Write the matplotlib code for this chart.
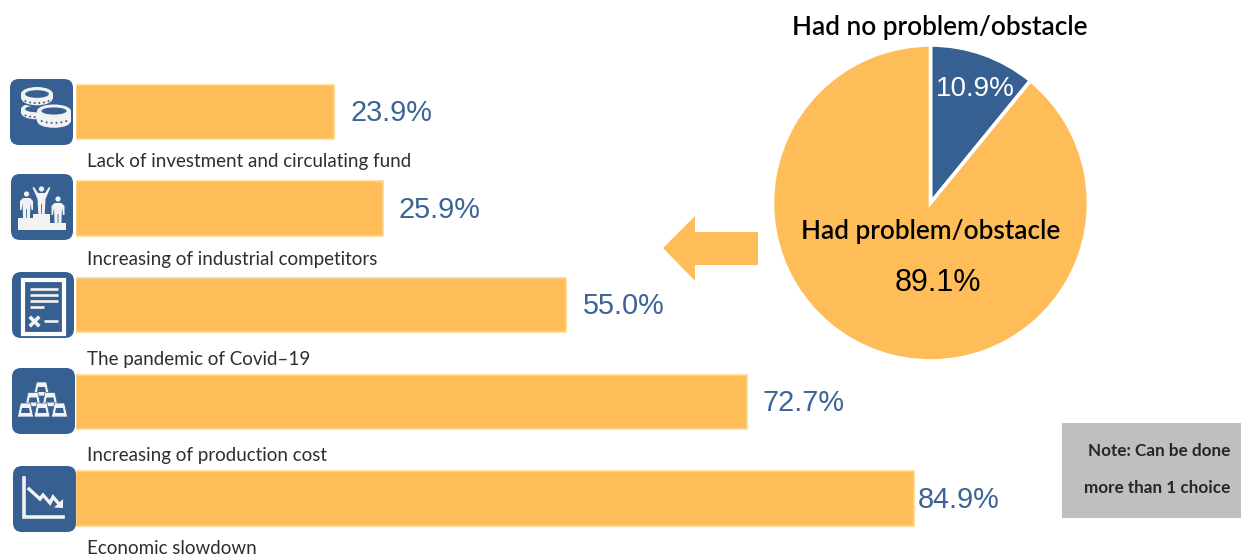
import matplotlib
matplotlib.use("Agg")
import numpy as np
import matplotlib.pyplot as plt
from matplotlib.patches import FancyBboxPatch, Rectangle, Ellipse, Polygon, Circle

# ---- data ----
categories = ["Lack of investment and circulating fund", "Increasing of industrial competitors",
              "The pandemic of Covid-19", "Increasing of production cost", "Economic slowdown"]
values = [23.9, 25.9, 55.0, 72.7, 84.9]
value_labels = ["23.9%", "25.9%", "55.0%", "72.7%", "84.9%"]
pie_values = [10.9, 89.1]
pie_labels = ["10.9%", "89.1%"]
# the source's bars are not to a linear scale; these are its value -> drawn length pairs
scale_values = [0, 23.9, 25.9, 55.0, 72.7, 84.9, 100]
scale_lengths = [0, 258, 307, 490, 671, 838, 924]

ORANGE = "#FFBD59"
EDGE = "#FFD68F"
BLUE = "#376092"
TEXTBLUE = "#3C6595"
ICON = "#F2F2F2"
W, H = 1241, 555
FONT = "Lato"
CAT = "Lato"
NUM = "Liberation Sans"

fig = plt.figure(figsize=(W / 100, H / 100), dpi=100, facecolor="white")


def rect(l, t, r, b):
    return [l / W, 1 - b / H, (r - l) / W, (b - t) / H]


# overlay in pixel coordinates for annotations
ov = fig.add_axes([0, 0, 1, 1], zorder=3)
ov.set_xlim(0, W)
ov.set_ylim(H, 0)
ov.axis("off")
ov.patch.set_alpha(0)

# bars
ax = fig.add_axes(rect(76, 63.7, 1000, 546.8), zorder=2)
ax.patch.set_alpha(0)
ax.set_xscale("function", functions=(lambda x: np.interp(x, scale_values, scale_lengths),
                                     lambda x: np.interp(x, scale_lengths, scale_values)))
ypos = np.arange(len(values))
ax.barh(ypos, values, height=0.564, color=ORANGE, edgecolor=EDGE, linewidth=1.2)
ax.set_xlim(0, 100)
ax.set_ylim(4.5, -0.5)
ax.axis("off")
offsets = [16, 16, 17, 16, 4]
for y, v, t, o in zip(ypos, values, value_labels, offsets):
    ax.annotate(t, (v, y), xytext=(o * 0.72, -0.8), textcoords="offset points", va="center", ha="left",
                fontsize=20.8, color=TEXTBLUE, family=NUM)
cat_y = [161, 260, 360, 455, 548]
for c, y in zip(categories, cat_y):
    ov.text(87, y, c.replace("-", "\u2013"), fontsize=13.5, family=CAT, color="#2E2E2E",
            va="center", ha="left")

# pie
pa = fig.add_axes(rect(930.5 - 158, 203 - 158, 930.5 + 158, 203 + 158), zorder=1)
pa.pie(pie_values, colors=[BLUE, ORANGE], startangle=90, counterclock=False, radius=1.0,
       wedgeprops=dict(edgecolor="white", linewidth=2.6))
pa.set_xlim(-1, 1)
pa.set_ylim(-1, 1)
ov.text(975.5, 89.5, pie_labels[0], color="white", fontsize=20, family=NUM, ha="center", va="center")
ov.text(938, 283, pie_labels[1], color="black", fontsize=22, family=NUM, ha="center", va="center")
ov.text(940, 27, "Had no problem/obstacle", color="black", fontsize=18.8, family=FONT, weight="semibold",
        ha="center", va="center")
ov.text(931, 232, "Had problem/obstacle", color="black", fontsize=18.8, family=FONT, weight="semibold",
        ha="center", va="center")

# arrow
ov.add_patch(Polygon([(758, 232), (695, 232), (695, 216), (663, 248), (695, 281), (695, 265), (758, 265)],
                     closed=True, fc=ORANGE, ec="none"))

# note
ov.add_patch(Rectangle((1062, 423), 179, 95, fc="#BFBFBF", ec="none"))
ov.text(1230, 451, "Note: Can be done", fontsize=12.3, family=FONT, weight="bold", color="#262626", ha="right", va="center")
ov.text(1230, 488, "more than 1 choice", fontsize=12.3, family=FONT, weight="bold", color="#262626", ha="right", va="center")


# icons
def tile(l, t, r, b):
    ov.add_patch(FancyBboxPatch((l + 9, t + 9), r - l - 18, b - t - 18, boxstyle="round,pad=9,rounding_size=9",
                                fc=BLUE, ec="none", zorder=3))


def coin(cx, cy, rx, ry, h):
    ov.add_patch(Ellipse((cx, cy + h), 2 * rx, 2 * ry, fc=ICON, ec=BLUE, lw=1.0, zorder=4))
    ov.add_patch(Rectangle((cx - rx, cy), 2 * rx, h, fc=ICON, ec="none", zorder=4))
    ov.add_patch(Ellipse((cx, cy), 2 * rx, 2 * ry, fc=ICON, ec="none", zorder=4))
    ov.add_patch(Ellipse((cx, cy), 2 * rx * 0.74, 2 * ry * 0.55, fc=BLUE, ec="none", zorder=4))
    for dx in np.linspace(-0.72, 0.72, 6):
        ov.add_patch(Circle((cx + dx * rx, cy + h * 0.55 + ry * 0.9 * np.sqrt(1 - dx ** 2)), 1.0,
                            fc=BLUE, ec="none", zorder=4))


tile(10, 79, 73, 145)
coin(37, 109, 16, 6, 5)
coin(37, 94, 16, 7, 5)
coin(54, 111, 17, 6.5, 11)

tile(11, 174, 73, 240)


def person(cx, top, feet, up=False):
    ov.add_patch(Circle((cx, top + 2.5), 2.6, fc=ICON, ec="none", zorder=4))
    t = top + 6.5
    if up:
        pts = [(cx - 3.5, t), (cx + 3.5, t), (cx + 7.5, t - 6), (cx + 9, t - 5.5), (cx + 4, t + 6), (cx + 3.2, feet),
               (cx + .4, feet), (cx + .4, t + 11), (cx - .4, t + 11), (cx - .4, feet), (cx - 3.2, feet),
               (cx - 4, t + 6), (cx - 9, t - 5.5), (cx - 7.5, t - 6)]
    else:
        pts = [(cx - 3.5, t), (cx + 3.5, t), (cx + 6.5, t + 3), (cx + 6.5, t + 12), (cx + 5, t + 12), (cx + 4, t + 5),
               (cx + 3.4, feet), (cx + .4, feet), (cx + .4, t + 11), (cx - .4, t + 11), (cx - .4, feet),
               (cx - 3.4, feet), (cx - 4, t + 5), (cx - 5, t + 12), (cx - 6.5, t + 12), (cx - 6.5, t + 3)]
    ov.add_patch(Polygon(pts, fc=ICON, ec="none", zorder=4))


person(26.5, 191.5, 218)
person(41.5, 186.5, 214, up=True)
person(58, 196.5, 223)
ov.add_patch(Polygon([(18, 230), (18, 218), (33, 218), (33, 214), (50, 214), (50, 223), (66, 223), (66, 230)],
                     fc=ICON, ec="none", zorder=5))

tile(12, 272, 74, 338)
ov.add_patch(Rectangle((23, 279.5), 41, 54.5, fc=BLUE, ec="white", lw=3, zorder=4))
for yy, x2 in zip((289, 295, 301, 307), (57.5, 57.5, 57.5, 44)):
    ov.plot([30, x2], [yy, yy], color=ICON, lw=1.9, solid_capstyle="butt", zorder=5)
ov.plot([44, 58], [321, 321], color=ICON, lw=1.9, solid_capstyle="butt", zorder=5)
ov.plot([31, 38], [318, 325], color=ICON, lw=2.6, zorder=5)
ov.plot([31, 38], [325, 318], color=ICON, lw=2.6, zorder=5)

tile(12, 368, 75, 434)


def ingot(cx, cy):
    ov.add_patch(Polygon([(cx - 8, cy + 7), (cx - 5, cy - 7), (cx + 5, cy - 7), (cx + 8, cy + 7)], fc=ICON,
                         ec=BLUE, lw=0.5, zorder=4))
    ov.add_patch(Polygon([(cx - 4.5, cy + 3), (cx - 3.5, cy - 2), (cx + 3.5, cy - 2), (cx + 4.5, cy + 3)], fc=BLUE,
                         ec="none", zorder=4))


for c in [(41.5, 389), (33, 399.5), (50, 399.5), (25.5, 410), (42, 410), (59.5, 410)]:
    ingot(*c)

tile(13, 466, 76, 532)
ov.plot([24, 24, 63], [478, 517, 517], color=ICON, lw=2.6, solid_joinstyle="miter", zorder=4)
ov.plot([29, 40, 43, 50, 53, 60], [489, 499, 495, 503, 497, 505], color=ICON, lw=2.4, zorder=4,
        solid_joinstyle="miter")
ov.add_patch(Polygon([(63, 508), (54, 507.5), (63, 499)], fc=ICON, ec="none", zorder=4))

fig.savefig("out.png", dpi=100, facecolor="white")
